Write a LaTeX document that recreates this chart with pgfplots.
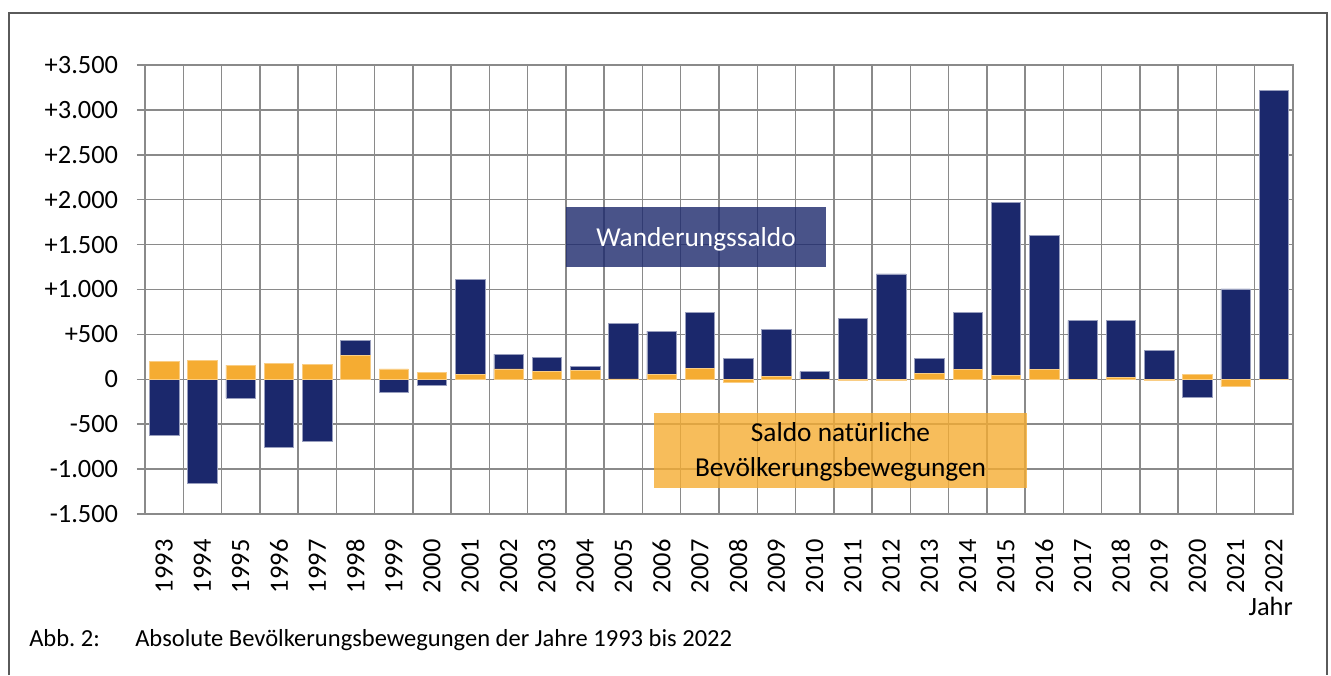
\documentclass[border=0pt]{standalone}
\usepackage{fontspec}
\setmainfont{Carlito}
\usepackage{pgfplots}
\pgfplotsset{compat=1.18}
\definecolor{navyc}{RGB}{27,40,108}
\definecolor{orangec}{RGB}{245,172,50}
\definecolor{gridc}{RGB}{138,138,138}
\definecolor{framec}{RGB}{90,90,90}

\pgfplotstableread{
idx wand nat
0 -622 203
1 -1156 214
2 -211 159
3 -756 181
4 -693 170
5 437 267
6 -148 115
7 -63 78
8 1111 56
9 281 115
10 244 85
11 144 96
12 622 5
13 537 52
14 744 122
15 230 -37
16 556 30
17 85 0
18 681 -10
19 1174 -10
20 237 67
21 748 107
22 1967 41
23 1604 107
24 656 0
25 652 22
26 326 -15
27 -204 59
28 1007 -82
29 3215 0
}\datatable

\begin{document}
\frenchspacing
\begin{tikzpicture}
\path[use as bounding box] (0,0) rectangle (998.25pt,506.25pt);
\draw[framec, line width=0.8pt] (6.75pt,0) -- (6.75pt,496.5pt) -- (995.25pt,496.5pt) -- (995.25pt,0);
\begin{axis}[
  at={(108.75pt,120.75pt)}, anchor=south west,
  scale only axis, width=861pt, height=336.75pt,
  xmin=-0.5, xmax=29.5, ymin=-1500, ymax=3500,
  xtick={0,1,...,29},
  xticklabels={1993,1994,1995,1996,1997,1998,1999,2000,2001,2002,2003,2004,2005,2006,2007,2008,2009,2010,2011,2012,2013,2014,2015,2016,2017,2018,2019,2020,2021,2022},
  minor xtick={-0.5,0.5,...,29.5},
  xminorgrids, ymajorgrids,
  grid style={gridc, line width=1.1pt},
  minor grid style={gridc, line width=1.1pt},
  major grid style={gridc, line width=1.1pt},
  xtick style={draw=none},
  minor x tick style={draw=none},
  ytick={-1500,-1000,...,3500},
  yticklabels={-1.500,-1.000,-500,0,+500,+1.000,+1.500,+2.000,+2.500,+3.000,+3.500},
  ytick pos=left, tick align=outside, major tick length=6pt,
  ytick style={gridc, line width=1.1pt},
  axis line style={gridc, line width=1.1pt},
  tick label style={font=\fontsize{19.8}{23}\selectfont},
  xticklabel style={rotate=90, anchor=east, inner sep=0pt},
  yticklabel style={anchor=east, inner sep=0pt},
  xticklabel shift=13pt,
  yticklabel shift=14pt,
]
\addplot[ybar, bar width=0.77, bar shift=0pt, fill=navyc, draw=navyc!45!white, line width=0.4pt] table[x=idx, y=wand] {\datatable};
\addplot[ybar, bar width=0.77, bar shift=0pt, fill=orangec, draw=orangec!60!white, line width=0.4pt] table[x=idx, y=nat] {\datatable};
\end{axis}
\fill[navyc, fill opacity=0.8] (424.5pt,306.2pt) rectangle (619.5pt,351pt);
\node[white, anchor=base, inner sep=0pt, font=\fontsize{20.5}{24}\selectfont] at (522pt,321.2pt) {Wanderungssaldo};
\fill[orangec, fill opacity=0.8] (490.5pt,140.4pt) rectangle (770.25pt,196.5pt);
\node[black, anchor=base, inner sep=0pt, font=\fontsize{20.5}{24}\selectfont] at (630.4pt,175pt) {Saldo natürliche};
\node[black, anchor=base, inner sep=0pt, font=\fontsize{20.5}{24}\selectfont] at (630.4pt,148.7pt) {Bevölkerungsbewegungen};
\node[anchor=base east, inner sep=0pt, font=\fontsize{19.8}{23}\selectfont] at (969.75pt,45pt) {Jahr};
\node[anchor=base west, inner sep=0pt, font=\fontsize{18.4}{22}\selectfont] at (21.75pt,21.2pt) {Abb. 2:};
\node[anchor=base west, inner sep=0pt, font=\fontsize{18.4}{22}\selectfont] at (101.25pt,21.2pt) {Absolute Bevölkerungsbewegungen der Jahre 1993 bis 2022};
\end{tikzpicture}
\end{document}
